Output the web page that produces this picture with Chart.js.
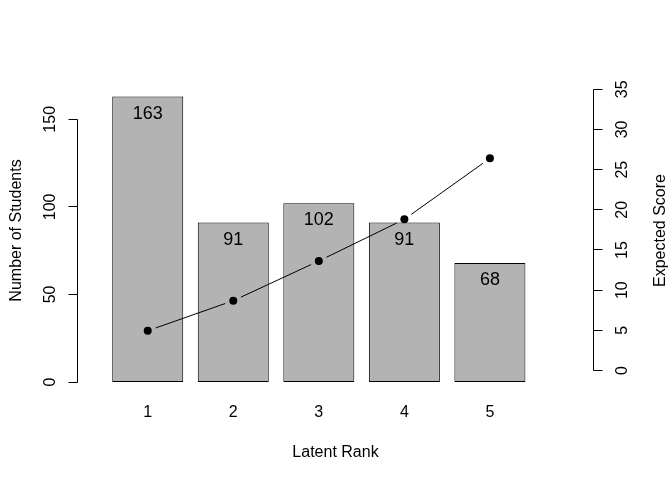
<!DOCTYPE html>
<html>
<head>
<meta charset="utf-8">
<script src="https://cdn.jsdelivr.net/npm/chart.js@4/dist/chart.umd.min.js"></script>
<style>
  html, body { margin: 0; padding: 0; background: #fff; }
  #wrap { width: 672px; height: 480px; }
</style>
</head>
<body>
<div id="wrap"><canvas id="rankChart" width="672" height="480"></canvas></div>
<script>
const ranks = [1, 2, 3, 4, 5];
const students = [163, 91, 102, 91, 68];
const expectedScore = [4.95, 8.69, 13.63, 18.82, 26.41];
const studentTicks = [0, 50, 100, 150];
const scoreTicks = [0, 5, 10, 15, 20, 25, 30, 35];

const FONT = "'Liberation Sans', Arial, Helvetica, sans-serif";
const POINT_GAP = 8.5; // R type="b": line stops short of each point

// text running bottom-to-top, like R's side 2 / side 4 labels
function vText(ctx, text, x, y) {
  ctx.save();
  ctx.translate(x, y);
  ctx.rotate(-Math.PI / 2);
  ctx.textAlign = "center";
  ctx.textBaseline = "alphabetic";
  ctx.fillText(text, 0, 0);
  ctx.restore();
}

function crisp(v) {
  return Math.floor(v) + 0.5;
}

function gapDash(seg) {
  const len = Math.hypot(seg.p1.x - seg.p0.x, seg.p1.y - seg.p0.y);
  const inner = Math.max(len - 2 * POINT_GAP, 0);
  return [0, POINT_GAP, inner, POINT_GAP + 1];
}

const rAxes = {
  id: "rAxes",
  afterDatasetDraw(chart, args) {
    if (args.index !== 0) return;
    // counts written inside the top of each bar
    const ctx = chart.ctx;
    const meta = chart.getDatasetMeta(0);
    ctx.save();
    ctx.fillStyle = "#000";
    ctx.font = "18px " + FONT;
    ctx.textAlign = "center";
    ctx.textBaseline = "alphabetic";
    meta.data.forEach((bar, i) => {
      ctx.fillText(String(students[i]), bar.x, bar.y + 22);
    });
    ctx.restore();
  },
  afterDraw(chart) {
    const ctx = chart.ctx;
    const area = chart.chartArea;
    const y = chart.scales.y;
    const y2 = chart.scales.y2;
    const x = chart.scales.x;
    ctx.save();
    ctx.strokeStyle = "#000";
    ctx.fillStyle = "#000";
    ctx.lineWidth = 1;
    ctx.font = "16px " + FONT;

    // left axis
    const lx = crisp(area.left);
    ctx.beginPath();
    ctx.moveTo(lx, crisp(y.getPixelForValue(studentTicks[0])));
    ctx.lineTo(lx, crisp(y.getPixelForValue(studentTicks[studentTicks.length - 1])));
    studentTicks.forEach((t) => {
      const py = crisp(y.getPixelForValue(t));
      ctx.moveTo(lx, py);
      ctx.lineTo(lx - 9, py);
    });
    ctx.stroke();
    studentTicks.forEach((t) => {
      vText(ctx, String(t), area.left - 22.5, y.getPixelForValue(t));
    });

    // right axis
    const rx = crisp(area.right);
    ctx.beginPath();
    ctx.moveTo(rx, crisp(y2.getPixelForValue(scoreTicks[0])));
    ctx.lineTo(rx, crisp(y2.getPixelForValue(scoreTicks[scoreTicks.length - 1])));
    scoreTicks.forEach((t) => {
      const py = crisp(y2.getPixelForValue(t));
      ctx.moveTo(rx, py);
      ctx.lineTo(rx + 9, py);
    });
    ctx.stroke();
    scoreTicks.forEach((t) => {
      vText(ctx, String(t), area.right + 33.5, y2.getPixelForValue(t));
    });

    // category labels under the bars
    ctx.textAlign = "center";
    ctx.textBaseline = "alphabetic";
    ranks.forEach((r) => {
      ctx.fillText(String(r), x.getPixelForValue(r), area.bottom + 35);
    });

    // axis titles
    const midX = (area.left + area.right) / 2;
    const midY = (area.top + area.bottom) / 2;
    ctx.fillText("Latent Rank", midX, area.bottom + 75);
    vText(ctx, "Number of Students", area.left - 57, midY);
    vText(ctx, "Expected Score", area.right + 71.5, midY);
    ctx.restore();
  },
};

const ctx = document.getElementById("rankChart");

new Chart(ctx, {
  type: "bar",
  data: {
    datasets: [
      {
        type: "bar",
        label: "Number of Students",
        data: ranks.map((r, i) => ({ x: r, y: students[i] })),
        yAxisID: "y",
        backgroundColor: "#b3b3b3",
        borderColor: "#000",
        borderWidth: 1,
        borderSkipped: false,
        barPercentage: 0.83,
        categoryPercentage: 1,
        order: 1,
      },
      {
        type: "line",
        label: "Expected Score",
        data: ranks.map((r, i) => ({ x: r, y: expectedScore[i] })),
        yAxisID: "y2",
        borderColor: "#000",
        borderWidth: 1,
        tension: 0,
        pointRadius: 4,
        pointBorderWidth: 0,
        pointBackgroundColor: "#000",
        fill: false,
        segment: {
          borderDash: gapDash,
        },
        order: 0,
      },
    ],
  },
  options: {
    responsive: false,
    animation: false,
    layout: {
      padding: { left: 77.5, right: 78.5, top: 79, bottom: 98 },
    },
    plugins: {
      legend: { display: false },
      tooltip: { enabled: false },
    },
    scales: {
      x: {
        type: "linear",
        min: 0.179,
        max: 6.211,
        offset: false,
        display: false,
        afterBuildTicks: (scale) => {
          scale.ticks = ranks.map((r) => ({ value: r }));
        },
      },
      y: { min: 0, max: 173, display: false },
      y2: { position: "right", min: -1.43, max: 36.28, display: false },
    },
  },
  plugins: [rAxes],
});
</script>
</body>
</html>
